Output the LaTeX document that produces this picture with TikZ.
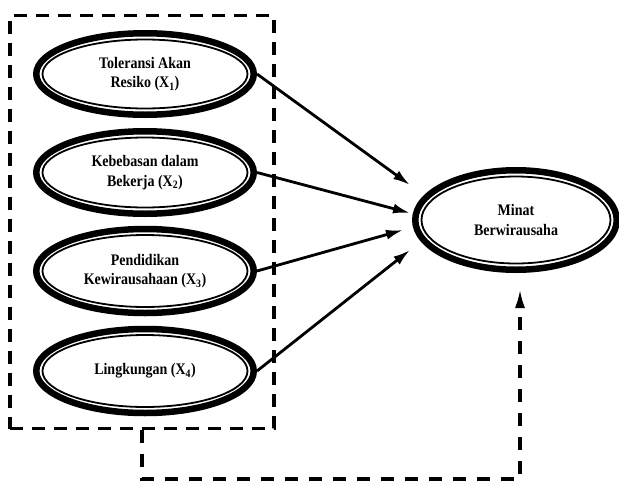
\documentclass[tikz,border=0pt]{standalone}
\usepackage{fontspec}
\setmainfont{Liberation Serif}
\usetikzlibrary{arrows.meta,shapes.geometric}
\newcommand\tallt[1]{\scalebox{1}[1.15]{#1}}
\tikzset{
  var/.style={ellipse, draw, line width=6.5pt, inner sep=0pt, align=center,
    font=\fontsize{14}{19.5}\selectfont\bfseries},
  inner/.style={line width=1.8pt},
  arr/.style={line width=2.8pt, -{Latex[length=17pt,width=10pt]}},
  dashbox/.style={draw, line width=3.5pt, dash pattern=on 13pt off 9pt},
  fback/.style={line width=3.5pt, dash pattern=on 13pt off 11pt, -{Latex[length=20pt,width=10pt]}}
}
\begin{document}
\begin{tikzpicture}[x=1pt,y=-1pt]
\useasboundingbox (0,0) rectangle (619,480);
\node[dashbox, minimum width=264pt, minimum height=413pt] (box) at (142,222) {};
\node[var, minimum width=217.5pt, minimum height=81.5pt] (e1) at (145,74) {\tallt{Toleransi Akan}\\\tallt{Resiko (X\textsubscript{1})}};
\node[var, minimum width=217.5pt, minimum height=82.5pt] (e2) at (145,172.5) {\tallt{Kebebasan dalam}\\\tallt{Bekerja (X\textsubscript{2})}};
\node[var, minimum width=217.5pt, minimum height=84pt] (e3) at (145,271) {\tallt{Pendidikan}\\\tallt{Kewirausahaan (X\textsubscript{3})}};
\node[var, minimum width=217.5pt, minimum height=84pt] (e4) at (145,371) {\tallt{Lingkungan (X\textsubscript{4})}};
\node[var, minimum width=201.5pt, minimum height=99.5pt] (m) at (516,220) {\tallt{Minat}\\\tallt{Berwirausaha}};
\foreach \n/\rx/\ry in {e1/102.5/34.5, e2/102.5/35, e3/102.5/36, e4/102.5/36, m/94.5/43.5}
  \draw[inner] (\n.center) ellipse [x radius=\rx, y radius=\ry];
\coordinate (t1) at (410,185);
\coordinate (t2) at (410,213);
\coordinate (t3) at (403,230);
\coordinate (t4) at (410,250);
\draw[arr] (e1.east) -- (t1);
\draw[arr] (e2.east) -- (t2);
\draw[arr] (e3.east) -- (t3);
\draw[arr] (e4.east) -- (t4);
\coordinate (fb) at (520,479);
\coordinate (mt) at (520,288);
\draw[fback] (box.south) |- (fb) -- (mt);
\end{tikzpicture}
\end{document}
